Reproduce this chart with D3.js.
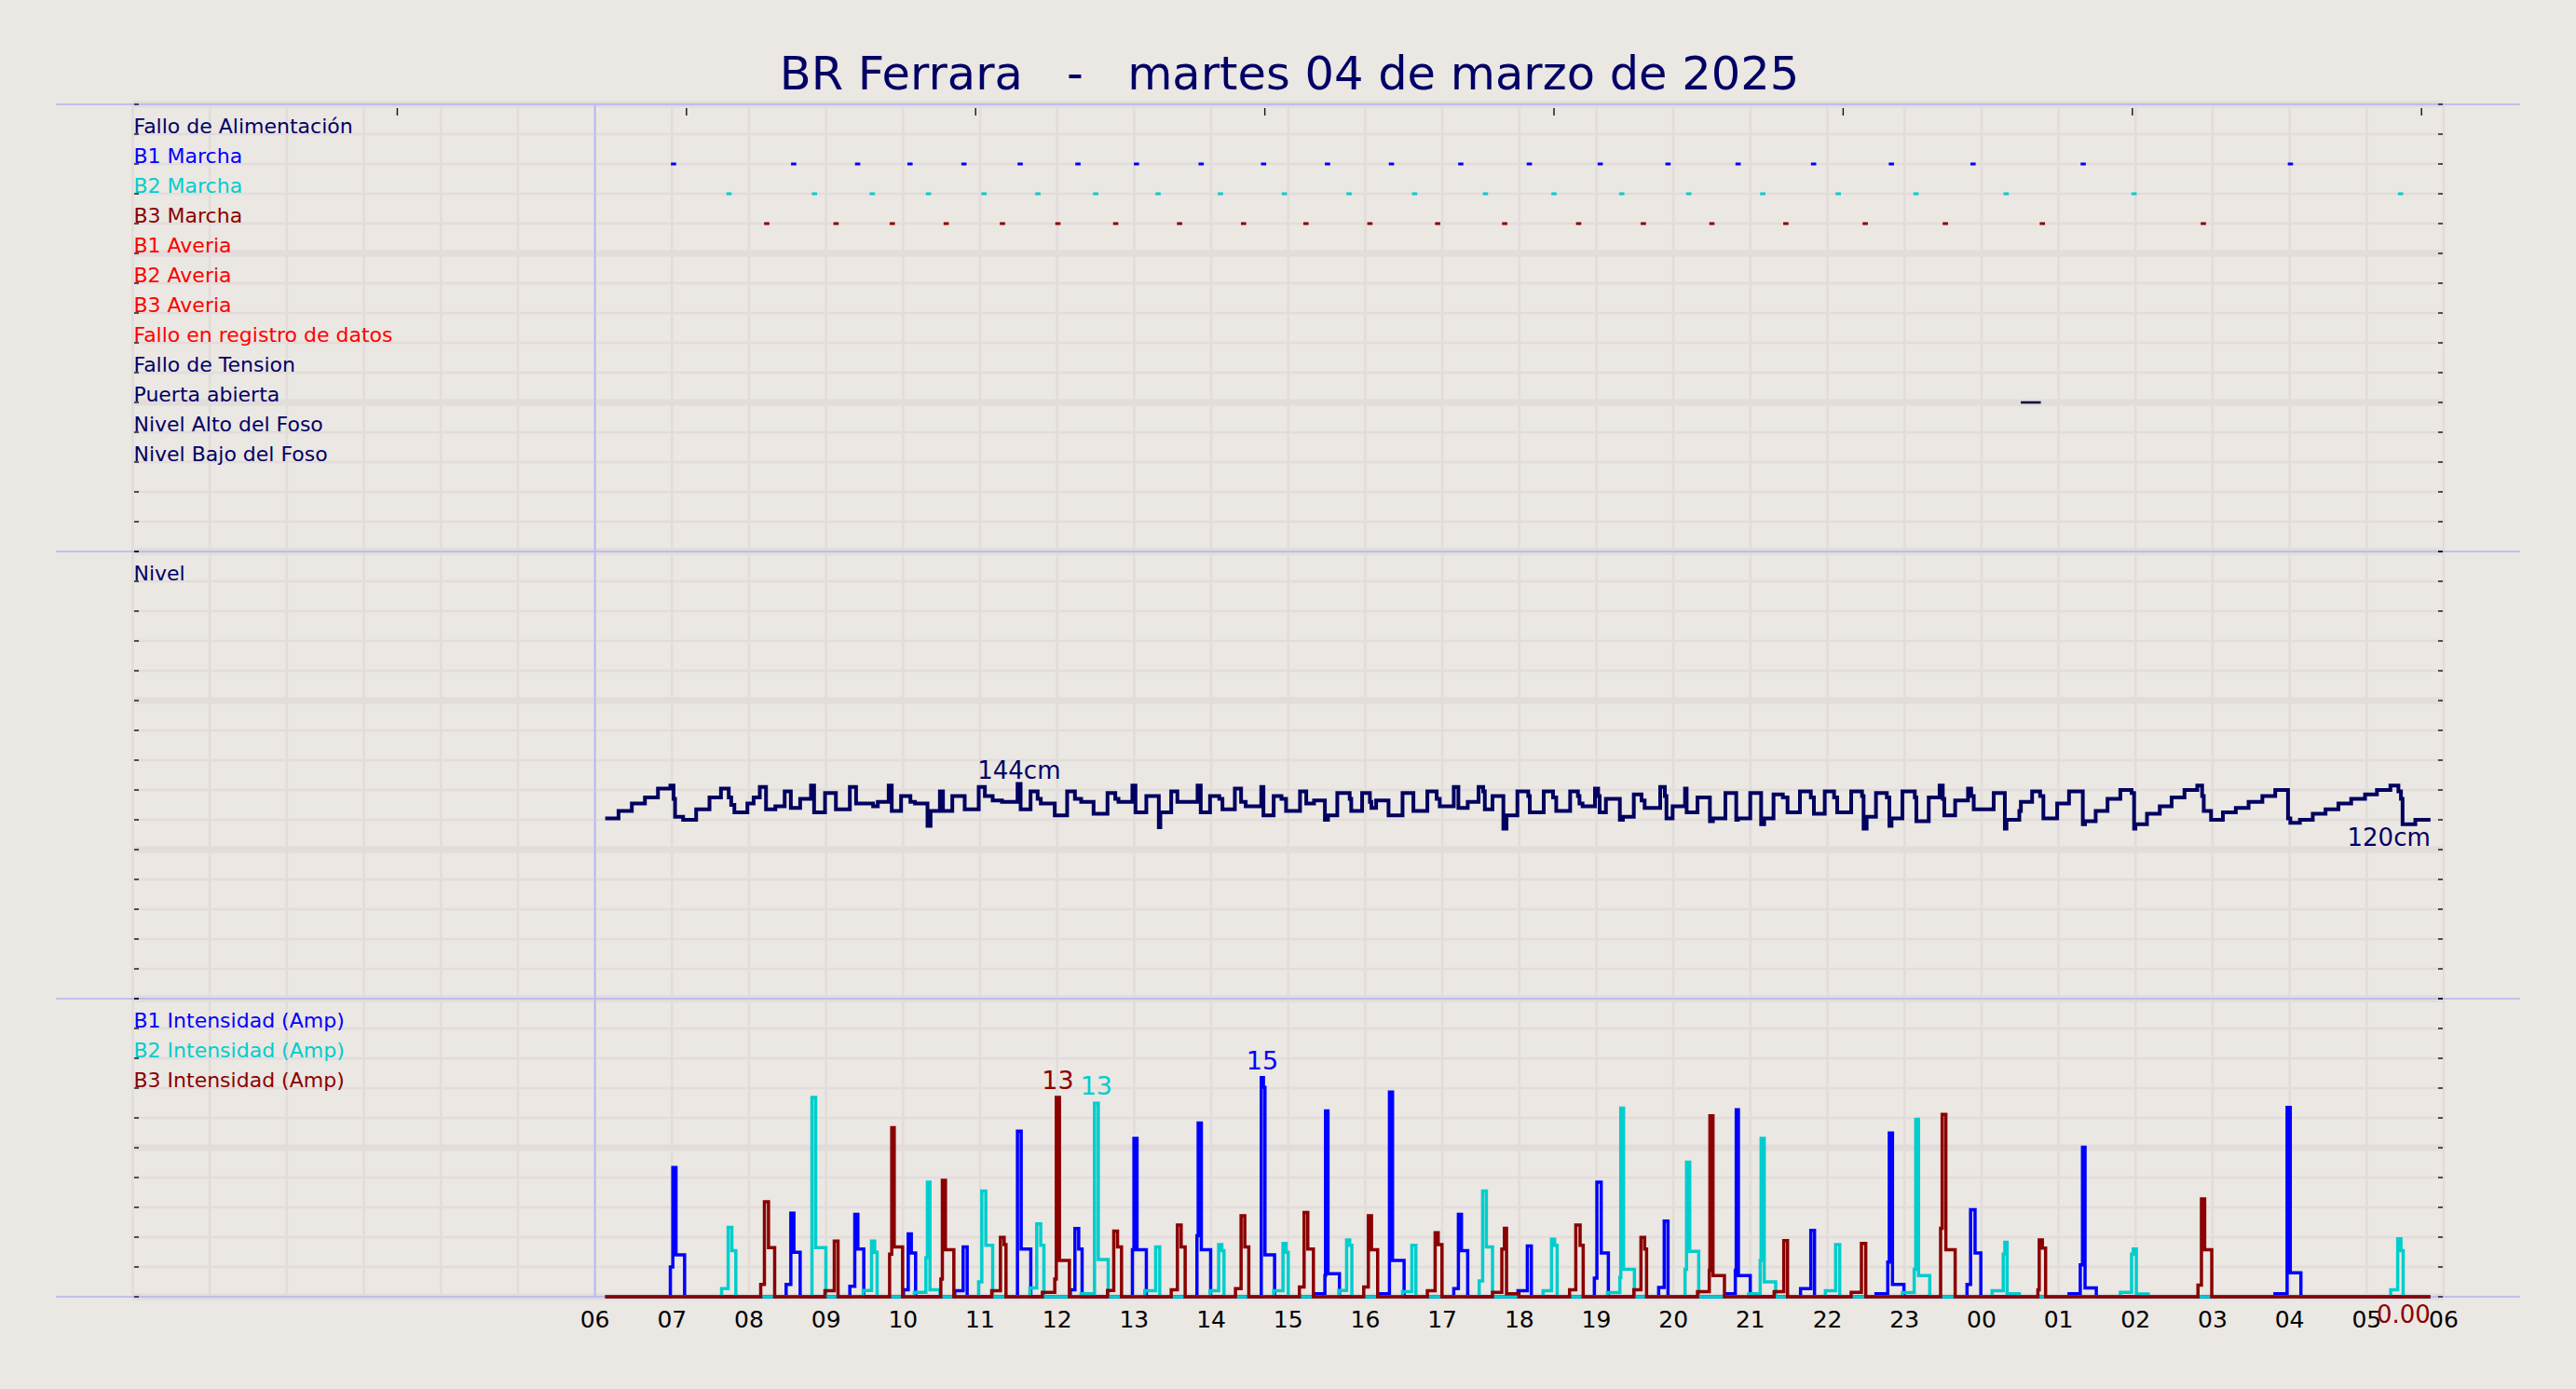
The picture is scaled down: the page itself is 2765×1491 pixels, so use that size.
<!DOCTYPE html>
<html><head><meta charset="utf-8">
<script src="https://cdn.jsdelivr.net/npm/d3@7"></script>
<style>
html,body{margin:0;padding:0;background:#ebe7e2;}
svg{display:block;}
text{font-family:"DejaVu Sans",sans-serif;}
</style>
</head><body>
<svg id="chart" width="2765" height="1491"></svg>
<script>
// ---------------- DATA ----------------
const chartTitle = "BR Ferrara   -   martes 04 de marzo de 2025";

// Event panel rows (value on event axis 0..15)
const eventLabels = ["Fallo de Alimentación","B1 Marcha","B2 Marcha","B3 Marcha","B1 Averia","B2 Averia","B3 Averia","Fallo en registro de datos","Fallo de Tension","Puerta abierta","Nivel Alto del Foso","Nivel Bajo del Foso"];
const eventRows   = [14,13,12,11,10,9,8,7,6,5,4,3];
const eventColors = ["#000066","#0000ff","#00cdcd","#8b0000","#ff0000","#ff0000","#ff0000","#ff0000","#000066","#000066","#000066","#000066"];

// Pump start markers (hours from 00:00 of 04/03)
const b1Marcha = [7.02,8.58,9.41,10.09,10.79,11.52,12.27,13.03,13.87,14.68,15.51,16.34,17.24,18.13,19.05,19.93,20.84,21.82,22.83,23.89,25.32,28.01];
const b2Marcha = [7.74,8.85,9.60,10.33,11.05,11.75,12.50,13.31,14.12,14.95,15.79,16.64,17.56,18.45,19.33,20.20,21.16,22.14,23.15,24.32,25.98,29.44];
const b3Marcha = [8.23,9.13,9.86,10.56,11.29,12.01,12.76,13.59,14.42,15.23,16.06,16.94,17.81,18.77,19.61,20.50,21.46,22.49,23.53,24.79,26.88];
const marchaHalfWidth = 0.034;
const puertaAbierta = [[24.51,24.77]];

// Level (cm), step-after samples [hour, cm]
const levelData = [
[6.133,121],[6.306,126],[6.479,131],[6.649,135],[6.818,141],[6.979,143],[7.020,134],[7.040,122],[7.145,120],[7.314,127],
[7.487,135],[7.636,141],[7.737,135],[7.769,130],[7.810,125],[7.979,131],[8.060,135],[8.140,142],[8.221,127],[8.342,129],
[8.463,139],[8.543,128],[8.664,134],[8.805,143],[8.845,125],[8.987,138],[9.128,127],[9.309,142],[9.390,131],[9.611,129],
[9.672,132],[9.813,143],[9.853,126],[9.974,136],[10.095,132],[10.155,131],[10.317,116],[10.357,126],[10.478,139],[10.518,126],
[10.639,136],[10.800,127],[10.982,142],[11.062,136],[11.163,133],[11.284,132],[11.486,144],[11.526,127],[11.655,139],[11.747,134],
[11.788,131],[11.969,123],[12.130,139],[12.231,134],[12.312,132],[12.473,124],[12.654,138],[12.755,134],[12.796,132],[12.977,143],
[13.017,125],[13.158,136],[13.320,115],[13.340,125],[13.481,139],[13.561,132],[13.823,143],[13.864,125],[13.985,136],[14.105,134],
[14.146,127],[14.307,141],[14.388,132],[14.448,129],[14.650,142],[14.678,123],[14.811,136],[14.912,134],[14.972,126],[15.153,139],
[15.234,131],[15.335,133],[15.476,120],[15.516,123],[15.637,138],[15.798,134],[15.818,126],[15.959,138],[16.060,132],[16.080,128],
[16.141,133],[16.302,123],[16.484,138],[16.625,126],[16.806,139],[16.927,134],[16.967,129],[17.149,142],[17.209,128],[17.330,132],
[17.471,142],[17.531,139],[17.552,127],[17.652,136],[17.793,114],[17.834,123],[17.975,139],[18.116,136],[18.136,125],[18.317,139],
[18.438,135],[18.479,126],[18.660,139],[18.761,136],[18.781,131],[18.821,129],[18.982,141],[19.023,136],[19.043,125],[19.124,134],
[19.305,120],[19.345,122],[19.486,137],[19.587,133],[19.627,128],[19.829,142],[19.889,136],[19.910,121],[19.990,129],[20.151,141],
[20.172,125],[20.313,135],[20.474,119],[20.514,121],[20.675,138],[20.816,120],[20.837,121],[20.998,138],[21.139,117],[21.179,121],
[21.300,137],[21.421,135],[21.482,125],[21.643,139],[21.784,135],[21.824,124],[21.965,139],[22.086,135],[22.126,125],[22.308,139],
[22.449,136],[22.469,114],[22.509,122],[22.630,138],[22.771,135],[22.804,116],[22.832,121],[22.973,139],[23.134,135],[23.154,119],
[23.315,135],[23.456,143],[23.497,134],[23.517,123],[23.658,133],[23.825,141],[23.866,136],[23.899,127],[24.158,138],[24.303,114],
[24.324,120],[24.491,126],[24.511,132],[24.657,139],[24.761,136],[24.803,121],[24.982,131],[25.136,139],[25.315,117],[25.344,119],
[25.482,126],[25.636,134],[25.802,140],[25.948,138],[25.981,114],[25.998,117],[26.148,124],[26.314,129],[26.468,135],[26.635,140],
[26.801,143],[26.864,136],[26.885,126],[26.980,120],[27.134,125],[27.301,128],[27.467,132],[27.646,136],[27.813,140],[27.979,121],
[28.009,118],[28.133,120],[28.300,124],[28.466,127],[28.633,131],[28.799,134],[28.979,137],[29.133,140],[29.308,143],[29.412,139],
[29.445,134],[29.466,117],[29.632,120],[29.828,120]
];

// Pump currents (Amp), runs of step-after samples [hour, A]
const seriesStart = 6.133, seriesEnd = 29.828;
const b1Runs = [
[[6.979,2.0],[7.011,8.67],[7.052,2.81],[7.164,0]],
[[8.482,0.83],[8.543,5.61],[8.583,2.98],[8.664,0]],
[[9.309,0.7],[9.373,5.53],[9.413,3.2],[9.490,0]],
[[10.006,0.47],[10.067,4.22],[10.107,2.93],[10.163,0]],
[[10.671,0.4],[10.780,3.34],[10.832,0]],
[[11.485,11.11],[11.533,3.2],[11.658,0]],
[[12.171,0.47],[12.231,4.58],[12.280,3.2],[12.324,0]],
[[12.977,3.15],[12.997,10.63],[13.037,3.15],[13.158,0]],
[[13.815,4.1],[13.831,11.66],[13.872,3.15],[13.993,0]],
[[14.650,14.7],[14.678,14.05],[14.698,2.81],[14.823,0]],
[[15.335,0.2],[15.476,1.42],[15.484,12.47],[15.516,1.54],[15.665,0]],
[[16.181,0.2],[16.314,13.74],[16.354,2.43],[16.504,0]],
[[17.149,0.54],[17.209,5.53],[17.249,3.1],[17.330,0]],
[[17.983,0.4],[18.104,3.41],[18.156,0]],
[[18.974,1.25],[19.007,7.69],[19.063,2.93],[19.156,0]],
[[19.809,0.63],[19.881,5.08],[19.930,0]],
[[20.675,0.2],[20.804,1.78],[20.816,12.54],[20.844,1.42],[20.998,0]],
[[21.651,0.54],[21.784,4.46],[21.832,0]],
[[22.630,0.2],[22.783,2.33],[22.803,10.99],[22.844,0.83],[22.993,0]],
[[23.812,0.83],[23.858,5.85],[23.916,2.93],[23.991,0]],
[[25.136,0.2],[25.282,2.14],[25.311,10.03],[25.344,0.59],[25.490,0]],
[[27.809,0.2],[27.967,12.71],[28.008,1.61],[28.146,0]]
];
const b2Runs = [
[[7.644,0.54],[7.729,4.65],[7.777,3.1],[7.829,0]],
[[8.817,13.38],[8.865,3.29],[8.998,0]],
[[9.482,0.42],[9.591,3.74],[9.631,2.98],[9.663,0]],
[[10.147,0.3],[10.296,2.62],[10.316,7.69],[10.349,0.47],[10.478,0]],
[[10.981,1.0],[11.022,7.09],[11.074,3.46],[11.163,0]],
[[11.646,0.59],[11.735,4.89],[11.787,3.46],[11.828,0]],
[[12.312,0.2],[12.485,12.98],[12.534,2.5],[12.663,0]],
[[13.138,0.4],[13.279,3.34],[13.332,0]],
[[13.985,0.4],[14.097,3.5],[14.138,3.1],[14.166,0]],
[[14.811,0.4],[14.932,3.58],[14.972,2.98],[15.000,0]],
[[15.657,0.42],[15.758,3.81],[15.798,3.46],[15.826,0]],
[[16.484,0.35],[16.605,3.46],[16.657,0]],
[[17.479,1.06],[17.524,7.09],[17.572,3.34],[17.652,0]],
[[18.309,0.4],[18.418,3.86],[18.458,3.46],[18.491,0]],
[[19.144,0.28],[19.305,1.3],[19.317,12.66],[19.353,1.85],[19.494,0]],
[[20.151,1.85],[20.171,9.03],[20.212,3.05],[20.329,0]],
[[20.978,0.2],[21.127,2.43],[21.139,10.63],[21.179,1.0],[21.328,0]],
[[21.973,0.4],[22.106,3.5],[22.159,0]],
[[22.973,0.28],[23.126,1.85],[23.146,11.9],[23.182,1.42],[23.328,0]],
[[24.137,0.4],[24.282,2.86],[24.303,3.65],[24.332,0.2],[24.491,0]],
[[25.802,0.3],[25.948,2.86],[25.969,3.2],[26.010,0.18],[26.164,0]],
[[29.312,0.47],[29.403,3.89],[29.445,3.1],[29.474,0]]
];
const b3Runs = [
[[8.152,0.83],[8.200,6.37],[8.253,3.29],[8.333,0]],
[[8.986,0.4],[9.107,3.74],[9.156,0]],
[[9.825,2.86],[9.853,11.35],[9.885,3.34],[9.994,0]],
[[10.490,1.18],[10.510,7.81],[10.550,3.15],[10.659,0]],
[[11.151,0.4],[11.264,3.98],[11.312,3.5],[11.336,0]],
[[11.808,0.3],[11.969,1.18],[11.989,13.38],[12.030,2.43],[12.159,0]],
[[12.654,0.42],[12.735,4.41],[12.784,3.34],[12.836,0]],
[[13.481,0.47],[13.561,4.82],[13.610,3.34],[13.662,0]],
[[14.315,0.54],[14.388,5.44],[14.436,3.34],[14.488,0]],
[[15.145,0.66],[15.206,5.66],[15.254,3.2],[15.327,0]],
[[15.980,0.66],[16.040,5.44],[16.081,3.15],[16.161,0]],
[[16.806,0.4],[16.907,4.29],[16.947,3.5],[16.996,0]],
[[17.652,0.3],[17.773,3.2],[17.806,4.6],[17.834,0.2],[17.995,0]],
[[18.652,0.47],[18.733,4.82],[18.789,3.46],[18.829,0]],
[[19.486,0.47],[19.579,3.98],[19.627,3.2],[19.652,0]],
[[20.313,0.35],[20.466,1.78],[20.474,12.14],[20.514,1.42],[20.663,0]],
[[21.308,0.35],[21.433,3.77],[21.482,0]],
[[22.308,0.3],[22.441,3.58],[22.497,0]],
[[23.469,4.6],[23.489,12.23],[23.537,3.15],[23.658,0]],
[[24.732,0.47],[24.749,3.81],[24.790,3.26],[24.832,0]],
[[26.810,0.78],[26.855,6.57],[26.897,3.15],[26.989,0]]
];
const ampLabels = ["B1 Intensidad (Amp)","B2 Intensidad (Amp)","B3 Intensidad (Amp)"];
const ampLabelRows = [18,16,14];
const ampColors = ["#0000ff","#00cdcd","#8b0000"];
// Max annotations [hour, amps, text] per series
const ampMaxNotes = [[14.664,14.7,"15"],[12.51,12.98,"13"],[12.01,13.38,"13"]];
const lastAmpText = "0.00";

// Axes
const xTickValues = [6,7,8,9,10,11,12,13,14,15,16,17,18,19,20,21,22,23,24,25,26,27,28,29,30];
const xTickLabels = ["06","07","08","09","10","11","12","13","14","15","16","17","18","19","20","21","22","23","00","01","02","03","04","05","06"];
const topTickValues = [3.434,7.188,10.942,14.696,18.45,22.204,25.958,29.712];

// ---------------- DRAW ----------------
const svg = d3.select("#chart");
const W = 2765, H = 1491;
const C = {bg:"#ebe7e2", grid:"#e2dcdb", sep:"#b3b3f5", navy:"#000066", level:"#000060"};
svg.append("rect").attr("width",W).attr("height",H).attr("fill",C.bg);

const x = d3.scaleLinear().domain([0,30]).range([142.5,2623]);
const yEv = d3.scaleLinear().domain([0,15]).range([592,112]);
const yLv = d3.scaleLinear().domain([0,300]).range([1072,592]);
const yA  = d3.scaleLinear().domain([0,20]).range([1392,1072]);

const panels = [
  {y:yEv, ticks:d3.range(0,16,1), major:5},
  {y:yLv, ticks:d3.range(0,301,20), major:100},
  {y:yA,  ticks:d3.range(0,21,2), major:10}
];

const g = svg.append("g");
// vertical grid
g.selectAll("line.vg").data(d3.range(0,31)).join("line")
  .attr("x1",d=>x(d)).attr("x2",d=>x(d)).attr("y1",yEv(15)).attr("y2",yA(0))
  .attr("stroke",C.grid).attr("stroke-width",2.6);
// horizontal grid
panels.forEach(p=>{
  g.append("g").selectAll("line").data(p.ticks).join("line")
    .attr("x1",x(0)).attr("x2",x(30)).attr("y1",d=>p.y(d)).attr("y2",d=>p.y(d))
    .attr("stroke",C.grid).attr("stroke-width",d=> (Math.round(d*1000)%Math.round(p.major*1000)===0)?7:2.6);
});
// separators
[yEv(15),yEv(0),yLv(0),yA(0)].forEach(yy=>{
  svg.append("line").attr("x1",60).attr("x2",2705).attr("y1",yy).attr("y2",yy)
    .attr("stroke",C.sep).attr("stroke-width",1.6);
});
svg.append("line").attr("x1",x(6)).attr("x2",x(6)).attr("y1",yEv(15)).attr("y2",yA(0))
  .attr("stroke",C.sep).attr("stroke-width",1.6);

// ticks left/right
panels.forEach(p=>{
  const tg = svg.append("g");
  tg.selectAll("line.l").data(p.ticks).join("line")
    .attr("x1",x(0)+1.5).attr("x2",x(0)+6.5).attr("y1",d=>p.y(d)).attr("y2",d=>p.y(d))
    .attr("stroke","#111").attr("stroke-width",1.4);
  tg.selectAll("line.r").data(p.ticks).join("line").attr("class","r")
    .attr("x1",x(30)-6).attr("x2",x(30)-1).attr("y1",d=>p.y(d)).attr("y2",d=>p.y(d))
    .attr("stroke","#111").attr("stroke-width",1.4);
});
// top ticks
svg.append("g").selectAll("line").data(topTickValues).join("line")
  .attr("x1",d=>x(d)).attr("x2",d=>x(d)).attr("y1",116).attr("y2",124)
  .attr("stroke","#111").attr("stroke-width",1.4);

// title
svg.append("text").attr("x",1384).attr("y",96).attr("text-anchor","middle")
  .attr("font-size",49.5).attr("fill",C.navy).style("white-space","pre").text(chartTitle);

// event labels
svg.append("g").selectAll("text").data(eventLabels).join("text")
  .attr("x",x(0)+1).attr("y",(d,i)=>yEv(eventRows[i])-1)
  .attr("font-size",22).attr("fill",(d,i)=>eventColors[i]).text(d=>d);

// marcha markers
[[b1Marcha,13,"#0000ff"],[b2Marcha,12,"#00cdcd"],[b3Marcha,11,"#8b0000"]].forEach(([arr,row,col])=>{
  svg.append("g").selectAll("line").data(arr).join("line")
    .attr("x1",d=>x(d-marchaHalfWidth)).attr("x2",d=>x(d+marchaHalfWidth))
    .attr("y1",yEv(row)).attr("y2",yEv(row)).attr("stroke",col).attr("stroke-width",3);
});
svg.append("g").selectAll("line").data(puertaAbierta).join("line")
  .attr("x1",d=>x(d[0])).attr("x2",d=>x(d[1])).attr("y1",yEv(5)).attr("y2",yEv(5))
  .attr("stroke","#0a0a40").attr("stroke-width",2.6);

// level
svg.append("text").attr("x",x(0)+1).attr("y",yLv(280)-1).attr("font-size",22).attr("fill",C.navy).text("Nivel");
const lineLv = d3.line().x(d=>x(d[0])).y(d=>yLv(d[1])).curve(d3.curveStepAfter);
svg.append("path").datum(levelData).attr("d",lineLv).attr("fill","none")
  .attr("stroke",C.level).attr("stroke-width",4).attr("stroke-linejoin","miter");
const maxLv = levelData.reduce((a,b)=>b[1]>a[1]?b:a);
const maxIdx = levelData.indexOf(maxLv);
const maxEnd = levelData[maxIdx+1][0];
svg.append("text").attr("x",x((maxLv[0]+maxEnd)/2)).attr("y",yLv(maxLv[1])-6)
  .attr("text-anchor","middle").attr("font-size",26).attr("fill",C.navy).text(maxLv[1]+"cm");
const lastLv = levelData[levelData.length-1];
svg.append("text").attr("x",x(lastLv[0])).attr("y",yLv(lastLv[1])+28)
  .attr("text-anchor","end").attr("font-size",26).attr("fill",C.navy).text(lastLv[1]+"cm");

// currents
svg.append("g").selectAll("text").data(ampLabels).join("text")
  .attr("x",x(0)+1).attr("y",(d,i)=>yA(ampLabelRows[i])-1)
  .attr("font-size",22).attr("fill",(d,i)=>ampColors[i]).text(d=>d);
const lineA = d3.line().x(d=>x(d[0])).y(d=>yA(d[1])).curve(d3.curveStepAfter);
const ampSeries = [b1Runs,b2Runs,b3Runs].map(runs=>[[seriesStart,0]].concat(...runs,[[seriesEnd,0]]));
ampSeries.forEach((s,i)=>{
  svg.append("path").datum(s).attr("d",lineA).attr("fill","none")
    .attr("stroke",ampColors[i]).attr("stroke-width",3.5).attr("stroke-linejoin","miter");
});
ampMaxNotes.forEach((n,i)=>{
  svg.append("text").attr("x",x(n[0])).attr("y",yA(n[1])-9).attr("text-anchor","middle")
    .attr("font-size",27).attr("fill",ampColors[i]).text(n[2]);
});
const lastB3 = ampSeries[2][ampSeries[2].length-1];
svg.append("text").attr("x",x(lastB3[0])).attr("y",yA(lastB3[1])+28).attr("text-anchor","end")
  .attr("font-size",26).attr("fill",ampColors[2]).text(lastAmpText);

// x tick labels
svg.append("g").selectAll("text").data(xTickValues).join("text")
  .attr("x",d=>x(d)).attr("y",1425).attr("text-anchor","middle")
  .attr("font-size",25).attr("fill","#000").text((d,i)=>xTickLabels[i]);
</script>
</body></html>
